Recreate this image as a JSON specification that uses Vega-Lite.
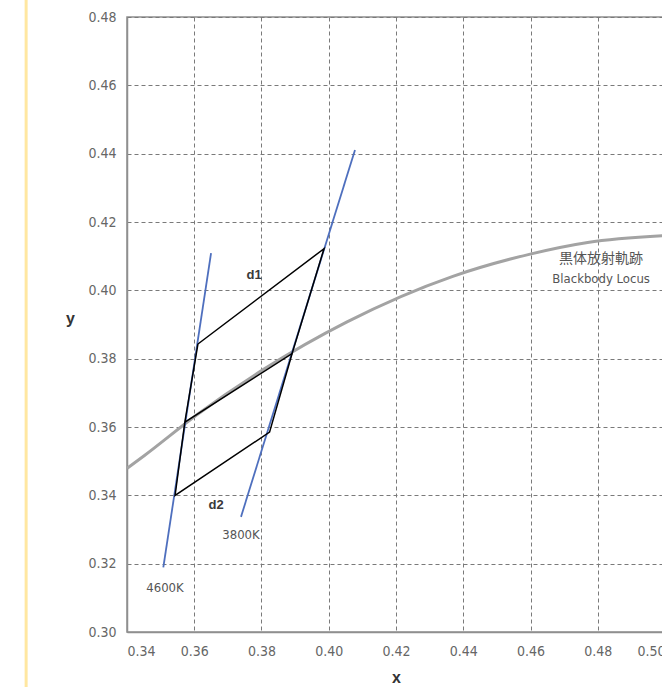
{
  "$schema": "https://vega.github.io/schema/vega-lite/v6.json",
  "autosize": {"type": "none"},
  "padding": {"left": 127, "top": 17, "right": 0, "bottom": 55},
  "width": 538,
  "height": 615,
  "background": "white",
  "view": {"stroke": "#8f8f8f", "strokeWidth": 1.5},
  "config": {
    "font": "Liberation Sans Narrow, DejaVu Sans Condensed, sans-serif",
    "axis": {
      "grid": true,
      "gridColor": "#7a7a7a",
      "gridDash": [4, 3],
      "gridWidth": 1,
      "domainColor": "#8f8f8f",
      "domainWidth": 1.5,
      "ticks": false,
      "labelColor": "#666666",
      "labelFontSize": 14,
      "labelFont": "Liberation Sans Narrow, DejaVu Sans Condensed, sans-serif",
      "titleFont": "Liberation Sans, DejaVu Sans, sans-serif",
      "titleFontSize": 16,
      "titleFontWeight": "bold",
      "titleColor": "#333333"
    }
  },
  "layer": [
    {
      "data": {"values": [{"x": 0.31, "y": 0.27, "y2": 0.5}]},
      "mark": {"type": "rule", "color": "#FFE7A1", "strokeWidth": 3, "clip": false},
      "encoding": {
        "x": {"field": "x", "type": "quantitative", "scale": {"domain": [0.34, 0.5], "nice": false, "zero": false},
          "axis": {"values": [0.34, 0.36, 0.38, 0.40, 0.42, 0.44, 0.46, 0.48, 0.50], "format": ".2f", "title": "x", "labelPadding": 12, "titleY": 45, "titleBaseline": "middle"}},
        "y": {"field": "y", "type": "quantitative", "scale": {"domain": [0.30, 0.48], "nice": false, "zero": false},
          "axis": {"values": [0.30, 0.32, 0.34, 0.36, 0.38, 0.40, 0.42, 0.44, 0.46, 0.48], "format": ".2f", "title": "y", "labelPadding": 11, "titleAngle": 0, "titleX": -57, "titleY": 301, "titleAlign": "center", "titleBaseline": "middle"}},
        "y2": {"field": "y2"}
      }
    },
    {
      "data": {"values": [
        {"x": 0.34, "y": 0.3479},
        {"x": 0.3451, "y": 0.3516},
        {"x": 0.3608, "y": 0.3636},
        {"x": 0.3805, "y": 0.3768},
        {"x": 0.4053, "y": 0.3907},
        {"x": 0.4369, "y": 0.4041},
        {"x": 0.4599, "y": 0.4106},
        {"x": 0.4770, "y": 0.4140},
        {"x": 0.50, "y": 0.4160}
      ]},
      "mark": {"type": "line", "color": "#A3A3A3", "strokeWidth": 3, "interpolate": "monotone", "clip": true},
      "encoding": {
        "x": {"field": "x", "type": "quantitative"},
        "y": {"field": "y", "type": "quantitative"}
      }
    },
    {
      "data": {"values": [
        {"id": "4600K", "x": 0.3508, "y": 0.3189},
        {"id": "4600K", "x": 0.3650, "y": 0.4109},
        {"id": "3800K", "x": 0.3739, "y": 0.3337},
        {"id": "3800K", "x": 0.4078, "y": 0.4411}
      ]},
      "mark": {"type": "line", "color": "#4E6FBE", "strokeWidth": 1.8},
      "encoding": {
        "x": {"field": "x", "type": "quantitative"},
        "y": {"field": "y", "type": "quantitative"},
        "detail": {"field": "id"}
      }
    },
    {
      "data": {"values": [
        {"shape": "d1", "ord": 1, "x": 0.3611, "y": 0.3843},
        {"shape": "d1", "ord": 2, "x": 0.3986, "y": 0.4122},
        {"shape": "d1", "ord": 3, "x": 0.3891, "y": 0.3815},
        {"shape": "d1", "ord": 4, "x": 0.3572, "y": 0.3614},
        {"shape": "d1", "ord": 5, "x": 0.3611, "y": 0.3843},
        {"shape": "d2", "ord": 1, "x": 0.3572, "y": 0.3614},
        {"shape": "d2", "ord": 2, "x": 0.3543, "y": 0.3400},
        {"shape": "d2", "ord": 3, "x": 0.3824, "y": 0.3585},
        {"shape": "d2", "ord": 4, "x": 0.3891, "y": 0.3815}
      ]},
      "mark": {"type": "line", "color": "#000000", "strokeWidth": 1.5},
      "encoding": {
        "x": {"field": "x", "type": "quantitative"},
        "y": {"field": "y", "type": "quantitative"},
        "detail": {"field": "shape"},
        "order": {"field": "ord", "type": "quantitative"}
      }
    },
    {
      "data": {"values": [
        {"label": "d1", "x": 0.3778, "y": 0.4045},
        {"label": "d2", "x": 0.3665, "y": 0.3372}
      ]},
      "mark": {"type": "text", "font": "Liberation Sans, DejaVu Sans, sans-serif", "fontSize": 13, "fontWeight": "bold", "color": "#3a3a3a", "align": "center", "baseline": "middle"},
      "encoding": {
        "x": {"field": "x", "type": "quantitative"},
        "y": {"field": "y", "type": "quantitative"},
        "text": {"field": "label"}
      }
    },
    {
      "data": {"values": [
        {"label": "3800K", "x": 0.3739, "y": 0.3284},
        {"label": "4600K", "x": 0.3513, "y": 0.3129},
        {"label": "Blackbody Locus", "x": 0.4810, "y": 0.4033}
      ]},
      "mark": {"type": "text", "fontSize": 13, "color": "#555555", "align": "center", "baseline": "middle"},
      "encoding": {
        "x": {"field": "x", "type": "quantitative"},
        "y": {"field": "y", "type": "quantitative"},
        "text": {"field": "label"}
      }
    },
    {
      "data": {"values": [
        {"label": "黒体放射軌跡", "x": 0.4810, "y": 0.4092}
      ]},
      "mark": {"type": "text", "font": "Noto Sans CJK JP", "fontSize": 14, "color": "#555555", "align": "center", "baseline": "middle"},
      "encoding": {
        "x": {"field": "x", "type": "quantitative"},
        "y": {"field": "y", "type": "quantitative"},
        "text": {"field": "label"}
      }
    }
  ]
}
